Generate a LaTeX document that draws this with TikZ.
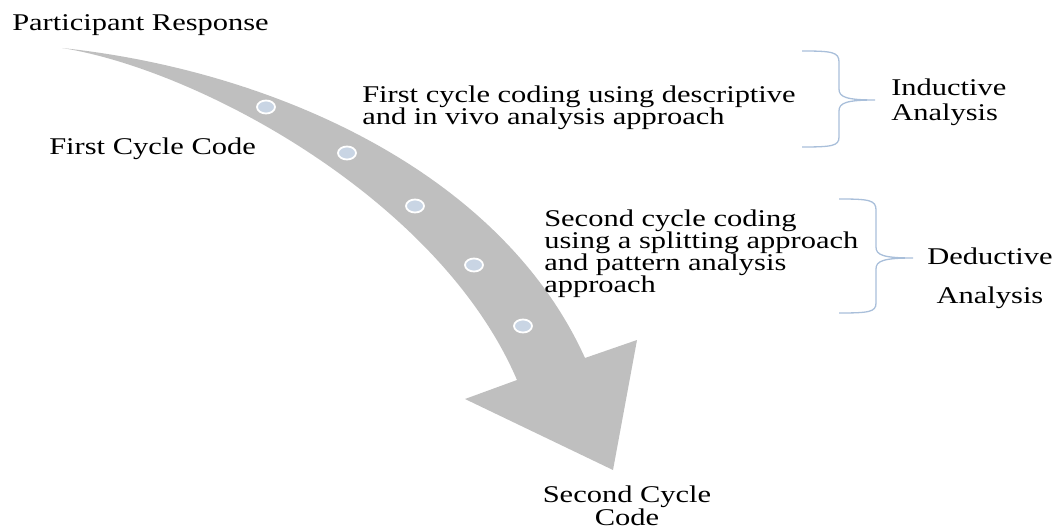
\documentclass[tikz,border=0pt]{standalone}
\usepackage{fontspec}
\setmainfont{Liberation Serif}
\usetikzlibrary{shapes.geometric}
\definecolor{bandgrey}{HTML}{BFBFBF}
\definecolor{dotblue}{HTML}{C9D5E4}
\definecolor{braceblue}{HTML}{A9BFDA}
\tikzset{
  lbl/.style={inner sep=0pt, xscale=1.27, font=\fontsize{24}{22}\selectfont},
  dotnode/.style={ellipse, minimum width=18pt, minimum height=13pt, inner sep=0pt, fill=dotblue, draw=white, line width=1.8pt},
  bracestyle/.style={draw=braceblue, line width=1.3pt},
}
\begin{document}
\begin{tikzpicture}[x=1pt,y=-1pt]
\useasboundingbox (0,0) rectangle (1057,529);
% band arrow
\fill[bandgrey] (62,48) .. controls (270,70) and (500,170) .. (585,358)
  -- (637,340) -- (613,470) -- (465,399) -- (517,380)
  .. controls (440,200) and (200,70) .. (62,48) -- cycle;
% dots
\node[dotnode] (d1) at (266,107) {};
\node[dotnode] (d2) at (347,153) {};
\node[dotnode] (d3) at (415,206) {};
\node[dotnode] (d4) at (474,265) {};
\node[dotnode] (d5) at (523,326) {};
% texts (base anchor = baseline of last line)
\node[lbl, anchor=base west] (pr) at (12,31) {Participant Response};
\node[lbl, anchor=base west] (fcc) at (49,155) {First Cycle Code};
\node[lbl, anchor=base west, align=left] (fc) at (362,125) {First cycle coding using descriptive\\and in vivo analysis approach};
\node[lbl, anchor=base west, align=left] (sc) at (544,292.5) {Second cycle coding\\using a splitting approach\\and pattern analysis\\approach};
\node[lbl, anchor=base west, align=left, font=\fontsize{24}{25.5}\selectfont] (ia) at (891,121) {Inductive\\Analysis};
\node[lbl, anchor=base, align=center, font=\fontsize{24}{39}\selectfont] (da) at (990,303) {Deductive\\Analysis};
\node[lbl, anchor=base, align=center, font=\fontsize{24}{20}\selectfont] (scc) at (627,525) {Second Cycle\\Code};
% braces
\coordinate (b1t) at (802,51);
\coordinate (b1m) at (875,100);
\coordinate (b1b) at (802,147);
\draw[bracestyle] (b1t) .. controls (832,51) and (839,52) .. (839,62) -- (839,89)
  .. controls (839,97) and (846,100) .. (b1m)
  .. controls (846,100) and (839,103) .. (839,111) -- (839,137)
  .. controls (839,146) and (832,147) .. (b1b);
\coordinate (b2t) at (839,199);
\coordinate (b2m) at (913,258);
\coordinate (b2b) at (839,313);
\draw[bracestyle] (b2t) .. controls (869,199) and (876,200) .. (876,210) -- (876,247)
  .. controls (876,255) and (883,258) .. (b2m)
  .. controls (883,258) and (876,261) .. (876,269) -- (876,303)
  .. controls (876,312) and (869,313) .. (b2b);
\end{tikzpicture}
\end{document}
